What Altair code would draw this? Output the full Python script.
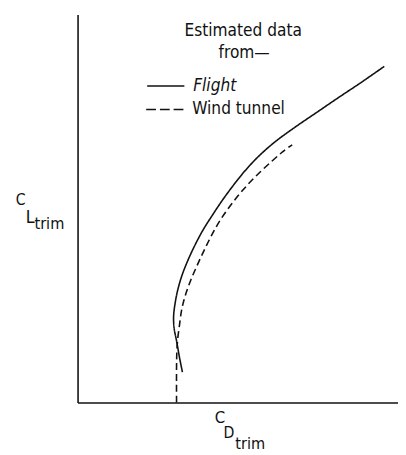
import altair as alt
import pandas as pd

# ---- data (arbitrary units, no scale shown) ----
flight_cd = [107, 104, 101, 98.5, 98, 99.5, 102.5, 107, 113, 120, 128, 137.5, 147.5, 158.5,
             170.5, 184.5, 201.5, 222, 244, 266, 288.5, 313]
flight_cl = [31, 46, 63, 76, 88, 101, 116, 131, 146, 161, 176, 191, 206, 221,
             236, 251, 266, 281, 296, 311, 326, 343]

tunnel_cd = [101, 101, 101.3, 102, 104, 106.5, 110.5, 116, 122.5, 129.5, 137, 145.5, 156,
             168, 182, 198, 209.5, 219]
tunnel_cl = [0, 36, 51, 63, 79, 96, 111, 126, 141, 156, 171, 186, 201,
             216, 231, 246, 256, 263]

series_names = ["Flight", "Wind tunnel"]
legend_title = ["Estimated data", "from\u2014"]

FONT = "DejaVu Sans Condensed"
INK = "#111111"

rows = []
for i, (x, y) in enumerate(zip(flight_cd, flight_cl)):
    rows.append({"series": "Flight", "i": i, "cd": x, "cl": y})
for i, (x, y) in enumerate(zip(tunnel_cd, tunnel_cl)):
    rows.append({"series": "Wind tunnel", "i": i, "cd": x, "cl": y})
df = pd.DataFrame(rows)

curves = alt.Chart(df).mark_line(
    interpolate="catmull-rom", strokeWidth=1.6, color=INK
).encode(
    x=alt.X("cd:Q", scale=alt.Scale(domain=[0, 327], nice=False, zero=False),
            axis=alt.Axis(domain=True, ticks=False, labels=False, title=None, grid=False,
                          domainColor=INK, domainWidth=1.6)),
    y=alt.Y("cl:Q", scale=alt.Scale(domain=[0, 396], nice=False, zero=False),
            axis=alt.Axis(domain=True, ticks=False, labels=False, title=None, grid=False,
                          domainColor=INK, domainWidth=1.6)),
    order="i:Q",
    detail="series:N",
    strokeDash=alt.StrokeDash("series:N",
                              scale=alt.Scale(domain=series_names, range=[[1, 0], [7, 4]]),
                              legend=None),
)

# legend sample lines
leg_solid = alt.Chart(pd.DataFrame({"s": [series_names[0]]})).mark_rule(
    color=INK, strokeWidth=1.6
).encode(x=alt.value(71), x2=alt.value(109), y=alt.value(73))
leg_dash = alt.Chart(pd.DataFrame({"s": [series_names[1]]})).mark_rule(
    color=INK, strokeWidth=1.6, strokeDash=[10, 4]
).encode(x=alt.value(70), x2=alt.value(109), y=alt.value(97))

def text_layer(texts, xs, ys, size, align="left", style="normal"):
    d = pd.DataFrame({"t": texts, "px": xs, "py": ys})
    return alt.Chart(d).mark_text(
        font=FONT, fontSize=size, align=align, baseline="alphabetic",
        color=INK, fontStyle=style
    ).encode(
        x=alt.X("px:Q", scale=None, axis=None),
        y=alt.Y("py:Q", scale=None, axis=None),
        text="t:N",
    )

t_title = text_layer(legend_title, [169, 170], [22, 44], 17.5, align="center")
t_flight = text_layer([series_names[0]], [118], [78], 17.5, style="italic")
t_tunnel = text_layer([series_names[1]], [117], [102], 17.5)

# axis labels with subscripts
y_C = text_layer(["C"], [-63], [194], 16)
y_L = text_layer(["L"], [-53], [213], 18)
y_trim = text_layer(["trim"], [-44], [219], 16.5)
x_C = text_layer(["C"], [140], [417], 17)
x_D = text_layer(["D"], [149], [432], 16)
x_trim = text_layer(["trim"], [161], [443], 16.5)

chart = alt.layer(
    curves, leg_solid, leg_dash, t_title, t_flight, t_tunnel,
    y_C, y_L, y_trim, x_C, x_D, x_trim
).properties(
    width=327, height=396,
    padding={"left": 71, "top": 2, "right": 0, "bottom": 49},
    autosize=alt.AutoSizeParams(type="none"),
    background="white",
).configure_view(stroke=None)

chart.save("out.html", embed_options={"renderer": "svg", "actions": False})
